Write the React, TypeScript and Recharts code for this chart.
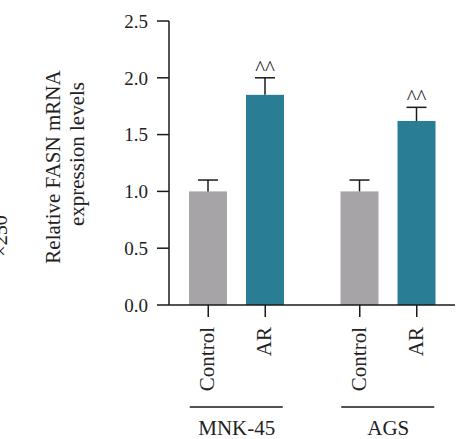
import React from 'react';
import { BarChart, Bar, XAxis, YAxis } from 'recharts';

const groups = ['MNK-45', 'AGS'];
const conditions = ['Control', 'AR'];
const controlValues = [1.0, 1.0];
const controlErrors = [0.1, 0.1];
const arValues = [1.85, 1.62];
const arErrors = [0.15, 0.12];
const arMarks = ['^^', '^^'];
const yTicks = [0, 0.5, 1.0, 1.5, 2.0, 2.5];

const data = groups.map((g, i) => ({
  group: g,
  control: controlValues[i],
  controlErr: controlErrors[i],
  ar: arValues[i],
  arErr: arErrors[i],
  mark: arMarks[i],
}));

const FONT = '"Liberation Serif", "DejaVu Serif", serif';
const BAR_SIZE = 38;
const BAR_GAP = 19;

const BarWithError = (props: any) => {
  const { x, y, width, height, fill, payload, valueKey, errKey, markKey } = props;
  const v = payload[valueKey];
  const err = payload[errKey];
  const errPx = v ? (height / v) * err : 0;
  const cx = x + width / 2;
  const capY = y - errPx;
  return (
    <g>
      <rect x={x} y={y} width={width} height={height} fill={fill} />
      <line x1={cx} y1={y} x2={cx} y2={capY} stroke="#1a1a1a" strokeWidth={1.5} />
      <line x1={cx - 10} y1={capY} x2={cx + 10} y2={capY} stroke="#1a1a1a" strokeWidth={1.5} />
      {markKey && payload[markKey] ? (
        <text x={cx} y={capY - 3} textAnchor="middle" fontFamily={FONT} fontSize={21} fill="#222">
          {payload[markKey]}
        </text>
      ) : null}
    </g>
  );
};

const GroupTick = (props: any) => {
  const { x, y, payload } = props;
  const off = (BAR_SIZE + BAR_GAP) / 2;
  const pos = [x - off, x + off];
  return (
    <g>
      {pos.map((px, i) => (
        <g key={i}>
          <line x1={px} y1={y} x2={px} y2={y + 12} stroke="#1a1a1a" strokeWidth={1.5} />
          <text
            x={px + 6}
            y={y + 22}
            textAnchor="end"
            transform={`rotate(-90, ${px + 6}, ${y + 22})`}
            fontFamily={FONT}
            fontSize={21}
            fill="#222"
          >
            {conditions[i]}
          </text>
        </g>
      ))}
      <line x1={x - 47} y1={y + 102} x2={x + 46} y2={y + 102} stroke="#1a1a1a" strokeWidth={1.5} />
      <text x={x} y={y + 130} textAnchor="middle" fontFamily={FONT} fontSize={21} fill="#222">
        {payload.value}
      </text>
    </g>
  );
};

const YLabel = (props: any) => {
  const { viewBox } = props;
  const vx = viewBox.x;
  const vy = viewBox.y;
  const l1y = vy + 146;
  const l2y = vy + 133;
  return (
    <g fontFamily={FONT} fill="#222">
      <text x={vx + 7} y={vy + 215} textAnchor="middle" fontSize={20} transform={`rotate(-90, ${vx + 7}, ${vy + 215})`}>
        ×250
      </text>
      <text x={vx + 60} y={l1y} textAnchor="middle" fontSize={21} transform={`rotate(-90, ${vx + 60}, ${l1y})`}>
        Relative FASN mRNA
      </text>
      <text x={vx + 84} y={l2y} textAnchor="middle" fontSize={21} transform={`rotate(-90, ${vx + 84}, ${l2y})`}>
        expression levels
      </text>
    </g>
  );
};

const App: React.FC = () => {
  return (
    <div style={{ position: 'absolute', left: 0, top: 0, background: '#fff' }}>
      <BarChart
        width={457}
        height={439}
        data={data}
        margin={{ top: 21, right: 2, bottom: 0, left: 0 }}
        barSize={BAR_SIZE}
        barGap={BAR_GAP}
      >
        <XAxis
          dataKey="group"
          axisLine={{ stroke: '#1a1a1a', strokeWidth: 1.5 }}
          tickLine={false}
          tickSize={0}
          tickMargin={0}
          height={134}
          padding={{ left: -8, right: -9 }}
          tick={<GroupTick />}
          interval={0}
        />
        <YAxis
          width={169}
          domain={[0, 2.5]}
          ticks={yTicks}
          tickFormatter={(v: number) => v.toFixed(1)}
          axisLine={{ stroke: '#1a1a1a', strokeWidth: 1.5 }}
          tickLine={{ stroke: '#1a1a1a', strokeWidth: 1.5 }}
          tickSize={12}
          tickMargin={9}
          tick={{ fontFamily: FONT, fontSize: 19, fill: '#222' }}
          label={{ content: <YLabel /> }}
        />
        <Bar
          dataKey="control"
          fill="#a6a4a7"
          isAnimationActive={false}
          shape={(p: any) => <BarWithError {...p} valueKey="control" errKey="controlErr" />}
        />
        <Bar
          dataKey="ar"
          fill="#297d94"
          isAnimationActive={false}
          shape={(p: any) => <BarWithError {...p} valueKey="ar" errKey="arErr" markKey="mark" />}
        />
      </BarChart>
    </div>
  );
};

export default App;
